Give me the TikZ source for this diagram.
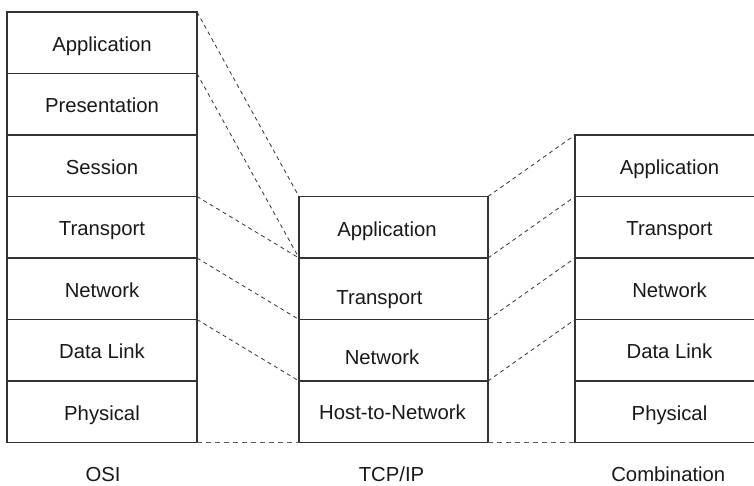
\documentclass[tikz,border=0pt]{standalone}
\usepackage{fontspec}
\setmainfont{Liberation Sans}
\begin{document}
\begin{tikzpicture}[x=1pt,y=-1pt,
  cell/.style={draw=black!80, line width=1.1pt, rectangle, inner sep=0pt, outer sep=0pt,
    minimum height=61.5pt},
  osicell/.style={cell, minimum width=190pt},
  tcpcell/.style={cell, minimum width=189pt},
  combcell/.style={cell, minimum width=189pt},
  % text nodes are centred on the middle of the capitals
  celltext/.style={inner sep=0pt, text height=14.6pt, text depth=0pt, text=black!90,
    font=\fontsize{20.3}{24}\selectfont},
  map/.style={draw=black!80, line width=0.8pt, dash pattern=on 4pt off 3.5pt},
  base/.style={draw=black!65, line width=1.1pt, dash pattern=on 5pt off 4pt}]
\useasboundingbox (0,0) rectangle (754,486);
\fill[white] (0,0) rectangle (754,486);
\clip (0,0) rectangle (754,486);

% OSI stack
\foreach \n/\t [count=\i from 0] in {o1/Application,o2/Presentation,o3/Session,o4/Transport,o5/Network,o6/Data Link,o7/Physical}{
  \node[osicell] (\n) at (102, 12+61.5*\i+30.75) {};
  \node[celltext] (\n l) at ([yshift=-1pt]\n.center) {\t};
}

% TCP/IP stack (labels sit slightly off centre)
\foreach \n/\t/\dx/\dy [count=\i from 3] in {t1/Application/-6.5/1.6,t2/Transport/-14/8,t3/Network/-11.5/7.3,t4/Host-to-Network/-1/0}{
  \node[tcpcell] (\n) at (393.5, 12+61.5*\i+30.75) {};
  \node[celltext] (\n l) at ([xshift=\dx pt, yshift=-\dy pt]\n.center) {\t};
}

% Combination stack
\foreach \n/\t [count=\i from 2] in {c1/Application,c2/Transport,c3/Network,c4/Data Link,c5/Physical}{
  \node[combcell] (\n) at (669.5, 12+61.5*\i+30.75) {};
  \node[celltext] (\n l) at ([yshift=-1pt]\n.center) {\t};
}

% OSI -> TCP/IP mapping
\draw[map] (o1.north east) -- (t1.north west);
\draw[map] (o2.north east) -- (t2.north west);
\draw[map] (o4.north east) -- (t2.north west);
\draw[map] (o5.north east) -- (t3.north west);
\draw[map] (o6.north east) -- (t4.north west);
\draw[base] (o7.south east) -- (t4.south west);

% TCP/IP -> Combination mapping
\draw[map] (t1.north east) -- (c1.north west);
\draw[map] (t2.north east) -- (c2.north west);
\draw[map] (t3.north east) -- (c3.north west);
\draw[map] (t4.north east) -- (c4.north west);
\draw[base] (t4.south east) -- (c5.south west);

% Captions
\node[celltext] (lo) at (103, 474.5) {OSI};
\node[celltext] (lt) at (391.5, 474.5) {TCP/IP};
\node[celltext] (lc) at (668.3, 474.5) {Combination};
\end{tikzpicture}
\end{document}
